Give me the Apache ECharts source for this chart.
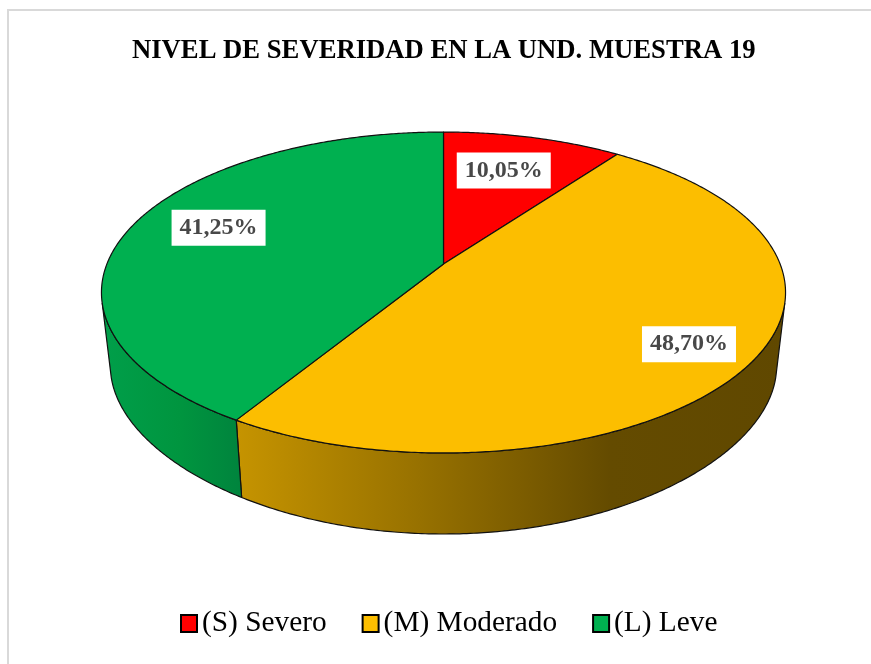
<!DOCTYPE html>
<html>
<head>
<meta charset="utf-8">
<style>html,body{margin:0;padding:0;background:#fff;overflow:hidden}#c{width:871px;height:664px}</style>
<script src="https://cdn.jsdelivr.net/npm/echarts@6/dist/echarts.min.js"></script>
</head>
<body>
<div id="c"></div>
<script>
const titleText = 'NIVEL DE SEVERIDAD EN LA UND. MUESTRA 19';
const categories = ['(S) Severo', '(M) Moderado', '(L) Leve'];
const shares = [10.05, 48.70, 41.25];
const topColors = ['#ff0000', '#fcbe00', '#00b050'];

const FONT = '"Liberation Serif","Times New Roman",serif';
// Perspective model of the disc: upper rim and lower rim planes
const CX = 443.5;
const TOP = {y0: 264, ax: 336.6, ay: 155.4, kx: 0.1776, ky: 0.1776};
const LOW = {y0: 339, ax: 327.8, ay: 146.25, kx: 0.1776, ky: 0.25};
const WALL_FROM = 104, WALL_TO = 256;
const LABEL_RADIUS = [0.68, 0.82, 0.72];
const LABEL_DX = [-3.5, -4, 0.5];
const LABEL_DY = [-3.5, 3, -7];

function proj(p, deg, r) {
  const t = deg * Math.PI / 180;
  const u = Math.sin(t) * r, v = -Math.cos(t) * r;
  return [CX + p.ax * u / (1 - p.kx * v), p.y0 + p.ay * v / (1 - p.ky * v)];
}
function arc(p, a, b) {
  const pts = [], n = Math.max(2, Math.ceil(Math.abs(b - a) * 2));
  for (let i = 0; i <= n; i++) pts.push(proj(p, a + (b - a) * i / n, 1));
  return pts;
}
function gradient(stops) {
  return {type: 'linear', global: true, x: 100, y: 0, x2: 786, y2: 0,
    colorStops: stops.map(s => ({offset: (s[0] - 100) / 686, color: s[1]}))};
}
const wallFills = [
  '#a00000',
  gradient([[235, '#c69400'], [420, '#977100'], [530, '#7a5b00'], [610, '#644b00'], [786, '#604800']]),
  gradient([[100, '#009f4a'], [180, '#00953f'], [240, '#00843d'], [786, '#00843d']])
];
const total = shares.reduce((a, b) => a + b, 0);

function renderSlice(params, api) {
  const i = params.seriesIndex;
  const start = shares.slice(0, i).reduce((a, b) => a + b, 0) / total * 360;
  const end = start + api.value(0) / total * 360;
  const children = [];
  const a = Math.max(start, WALL_FROM), b = Math.min(end, WALL_TO);
  if (b > a) {
    children.push({
      type: 'polygon', z2: 1,
      shape: {points: arc(TOP, a, b).concat(arc(LOW, b, a))},
      style: {fill: wallFills[i], stroke: '#111', lineWidth: 1.2, lineJoin: 'round'}
    });
  }
  children.push({
    type: 'polygon', z2: 2,
    shape: {points: [[CX, TOP.y0]].concat(arc(TOP, start, end))},
    style: {fill: topColors[i], stroke: '#111', lineWidth: 1.2, lineJoin: 'round'}
  });
  const m = proj(TOP, (start + end) / 2, LABEL_RADIUS[i]);
  children.push({
    type: 'text', z2: 3, x: m[0] + LABEL_DX[i], y: m[1] + LABEL_DY[i],
    style: {
      text: api.value(0).toFixed(2).replace('.', ',') + '%',
      font: 'bold 24px ' + FONT, fill: '#484848',
      align: 'center', verticalAlign: 'middle',
      backgroundColor: '#fff', padding: [6, 8, 6, 8], lineHeight: 24
    }
  });
  return {type: 'group', children};
}

const chart = echarts.init(document.getElementById('c'), null, {renderer: 'canvas'});
chart.setOption({
  animation: false,
  backgroundColor: '#fff',
  title: {
    text: titleText, left: 127, top: 33,
    textStyle: {fontFamily: FONT, fontWeight: 'bold', fontSize: 26.67, color: '#000'}
  },
  legend: {
    left: 175, top: 604, icon: 'rect', itemWidth: 16, itemHeight: 17, itemGap: 35,
    data: categories,
    itemStyle: {borderColor: '#000', borderWidth: 2},
    textStyle: {fontFamily: FONT, fontSize: 29.33, color: '#000'}
  },
  graphic: [{
    type: 'rect', z: -1, silent: true,
    shape: {x: 8, y: 10, width: 900, height: 700},
    style: {fill: 'transparent', stroke: '#d9d9d9', lineWidth: 2}
  }],
  series: categories.map((name, i) => ({
    type: 'custom', name, coordinateSystem: 'none',
    itemStyle: {color: topColors[i]},
    data: [shares[i]],
    renderItem: renderSlice
  }))
});
</script>
</body>
</html>
